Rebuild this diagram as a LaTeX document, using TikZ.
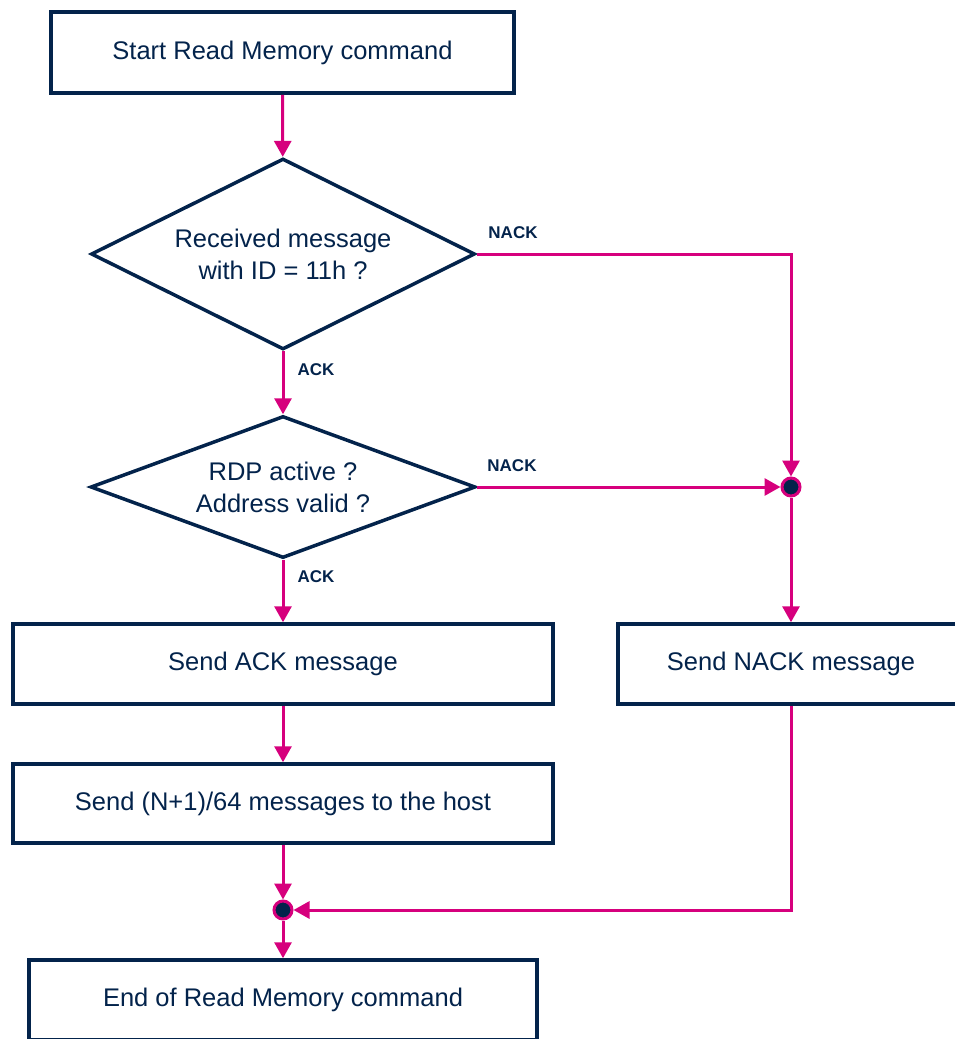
\documentclass[tikz,border=0pt]{standalone}
\usepackage{fontspec}
\setmainfont{Liberation Sans}
\usetikzlibrary{shapes.geometric,arrows.meta}
\definecolor{azul}{HTML}{03234B}
\definecolor{rosa}{HTML}{D6007D}
\begin{document}
\begin{tikzpicture}[x=1pt,y=-1pt,
	caja/.style={draw=azul,line width=3.5pt,text=azul,font=\fontsize{25.5}{32}\selectfont,minimum height=80pt,inner sep=0pt},
	rombo/.style={diamond,draw=azul,line width=3.5pt,text=azul,align=center,font=\fontsize{25.5}{32}\selectfont,inner sep=0pt},
	flecha/.style={rosa,line width=3pt,-{Triangle[length=16pt,width=17pt]}},
	etiq/.style={text=azul,font=\fontsize{17}{20}\selectfont\bfseries},
	union/.style={circle,fill=azul,draw=rosa,line width=3pt,minimum size=18pt,inner sep=0pt}]
			% Marco
			\useasboundingbox (0,0) rectangle (955,1039);
			\clip (0,0) rectangle (955,1039);

			% Cajas y rombos
			\node[caja,minimum width=463pt,minimum height=81pt] (inicio) at (282.5,52.5) {Start Read Memory command};
			\node[rombo,aspect=2,minimum width=384pt,minimum height=191pt] (id) at (283,254) {Received message\\with ID = 11h ?};
			\node[rombo,aspect=2.7,minimum width=385pt,minimum height=142pt] (rdp) at (283,487) {RDP active ?\\Address valid ?};
			\node[union] (j1) at (791,487) {};
			\node[caja,minimum width=540pt] (ack) at (283,664) {Send ACK message};
			\node[caja,minimum width=346pt] (nack) at (791,664) {Send NACK message};
			\node[caja,minimum width=540pt,minimum height=79pt] (datos) at (283,803.5) {Send (N+1)/64 messages to the host};
			\node[union] (j2) at (283,910) {};
			\node[caja,minimum width=508pt] (fin) at (283,1000) {End of Read Memory command};

			% Etiquetas
			\node[etiq] (nack1) at (513,233) {NACK};
			\node[etiq] (nack2) at (512,466) {NACK};
			\node[etiq] (ack1) at (316,370) {ACK};
			\node[etiq] (ack2) at (316,577) {ACK};

			% Flechas
			\draw[flecha] (inicio) -- (id);
			\draw[flecha] (id) -- (rdp);
			\draw[flecha] (id.east) -| (j1);
			\draw[flecha] (rdp.east) -- (j1);
			\draw[flecha] (j1) -- (nack);
			\draw[flecha] (rdp) -- (ack);
			\draw[flecha] (ack) -- (datos);
			\draw[flecha] (datos) -- (j2);
			\draw[flecha] (nack.south) |- (j2);
			\draw[flecha] (j2) -- (fin);

		    \end{tikzpicture}
\end{document}
